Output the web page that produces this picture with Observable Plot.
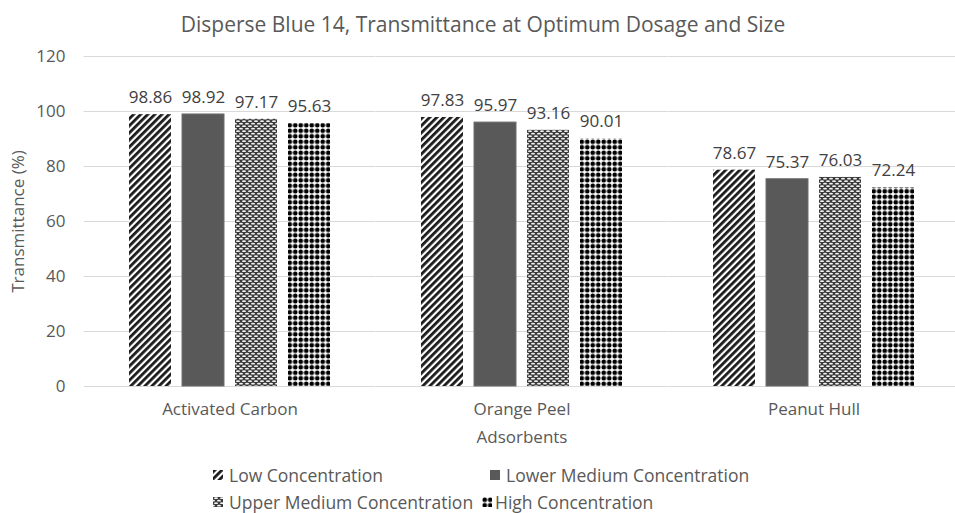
<!DOCTYPE html>
<html><head><meta charset="utf-8">
<script src="https://cdn.jsdelivr.net/npm/d3@7"></script>
<script src="https://cdn.jsdelivr.net/npm/@observablehq/plot@0.6"></script>
<style>
body{margin:0;background:#fff;font-family:"Open Sans",sans-serif;width:955px;height:513px;overflow:hidden;position:relative}
#title{height:40px;line-height:48px;text-align:center;font-size:21px;color:#595959;white-space:nowrap;padding-left:11px}
#legend{position:relative;height:58px;font-size:17.5px;color:#595959}
.item{position:absolute;white-space:nowrap;line-height:18px;height:18px}
.item svg{position:absolute;top:4px}
.item span{position:absolute;top:0}
</style></head><body>
<svg width="0" height="0" style="position:absolute">
<defs>
<pattern id="pLow" width="5" height="5" patternUnits="userSpaceOnUse" patternTransform="rotate(45)">
<rect width="5" height="5" fill="#fff"/><rect width="2.8" height="5" fill="#1a1a1a"/></pattern>
<pattern id="pLowerMed" width="4" height="4" patternUnits="userSpaceOnUse"><rect width="4" height="4" fill="#595959"/></pattern>
<pattern id="pUpperMed" width="6" height="5" patternUnits="userSpaceOnUse">
<rect width="6" height="5" fill="#3a3a3a"/>
<ellipse cx="3" cy="1.2" rx="2" ry="0.9" fill="#f2f2f2"/>
<ellipse cx="0" cy="3.7" rx="2" ry="0.9" fill="#f2f2f2"/>
<ellipse cx="6" cy="3.7" rx="2" ry="0.9" fill="#f2f2f2"/></pattern>
<pattern id="pHigh" width="5.5" height="5.5" patternUnits="userSpaceOnUse">
<rect width="5.5" height="5.5" fill="#fff"/><circle cx="2.75" cy="2.75" r="2.3" fill="#000"/></pattern>
</defs></svg>
<div id="title">Disperse Blue 14, Transmittance at Optimum Dosage and Size</div>
<div id="chart"></div>
<div id="legend"></div>
<script>
const adsorbents = ["Activated Carbon", "Orange Peel", "Peanut Hull"];
const concentrations = ["Low Concentration", "Lower Medium Concentration", "Upper Medium Concentration", "High Concentration"];
const low = [98.86, 97.83, 78.67];
const lowerMedium = [98.92, 95.97, 75.37];
const upperMedium = [97.17, 93.16, 76.03];
const high = [95.63, 90.01, 72.24];
const yTicks = [0, 20, 40, 60, 80, 100, 120];
const valueLabels = [["98.86","97.83","78.67"],["98.92","95.97","75.37"],["97.17","93.16","76.03"],["95.63","90.01","72.24"]];

const series = [low, lowerMedium, upperMedium, high];
const patterns = ["url(#pLow)", "url(#pLowerMed)", "url(#pUpperMed)", "url(#pHigh)"];
const rows = [];
concentrations.forEach((c, si) => adsorbents.forEach((a, ai) =>
  rows.push({adsorbent: a, concentration: c, value: series[si][ai], label: valueLabels[si][ai], si})));

const chart = Plot.plot({
  width: 955,
  height: 415,
  marginTop: 16,
  marginLeft: 128,
  marginRight: 39,
  marginBottom: 69,
  style: {fontFamily: "Open Sans, sans-serif", fontSize: "17px", color: "#595959", background: "#fff", overflow: "visible"},
  fx: {domain: adsorbents, paddingInner: 0.31, paddingOuter: 0, label: "Adsorbents"},
  x: {domain: concentrations, axis: null, paddingInner: 0.215, paddingOuter: 0},
  y: {domain: [0, 120], ticks: yTicks, label: "Transmittance (%)"},
  marks: [
    Plot.ruleY(yTicks, {stroke: "#d9d9d9", strokeWidth: 1, insetLeft: -45.4, insetRight: -45.4}),
    Plot.axisY(yTicks, {anchor: "left", tickSize: 0, tickPadding: 64, label: "Transmittance (%)", labelAnchor: "center", labelArrow: "none", labelOffset: 118, fill: "#595959", fontSize: 17}),
    Plot.axisFx({anchor: "bottom", tickSize: 0, tickPadding: 16, label: "Adsorbents", labelAnchor: "center", labelArrow: "none", labelOffset: 56, fontSize: 17, fill: "#595959"}),
    ...concentrations.map((c, si) => Plot.barY(rows.filter(d => d.si === si), {
      fx: "adsorbent", x: "concentration", y: "value", fill: patterns[si],
      stroke: si === 1 ? "#6e6e6e" : null, strokeWidth: 1
    })),
    Plot.text(rows, {fx: "adsorbent", x: "concentration", y: "value", text: "label", dy: -17, fontSize: 17, fill: "#404040"})
  ]
});
document.getElementById("chart").appendChild(chart);

const legend = document.getElementById("legend");
const pos = [[213, 11], [490, 11], [213, 38], [482, 38]];
concentrations.forEach((c, i) => {
  const it = document.createElement("div");
  it.className = "item";
  it.style.left = pos[i][0] + "px";
  it.style.top = pos[i][1] + "px";
  it.innerHTML = `<svg width="10" height="10"><rect width="10" height="10" fill="${patterns[i]}"/></svg><span style="left:${i === 3 ? 13 : 16}px">${c}</span>`;
  legend.appendChild(it);
});
</script>
</body></html>
